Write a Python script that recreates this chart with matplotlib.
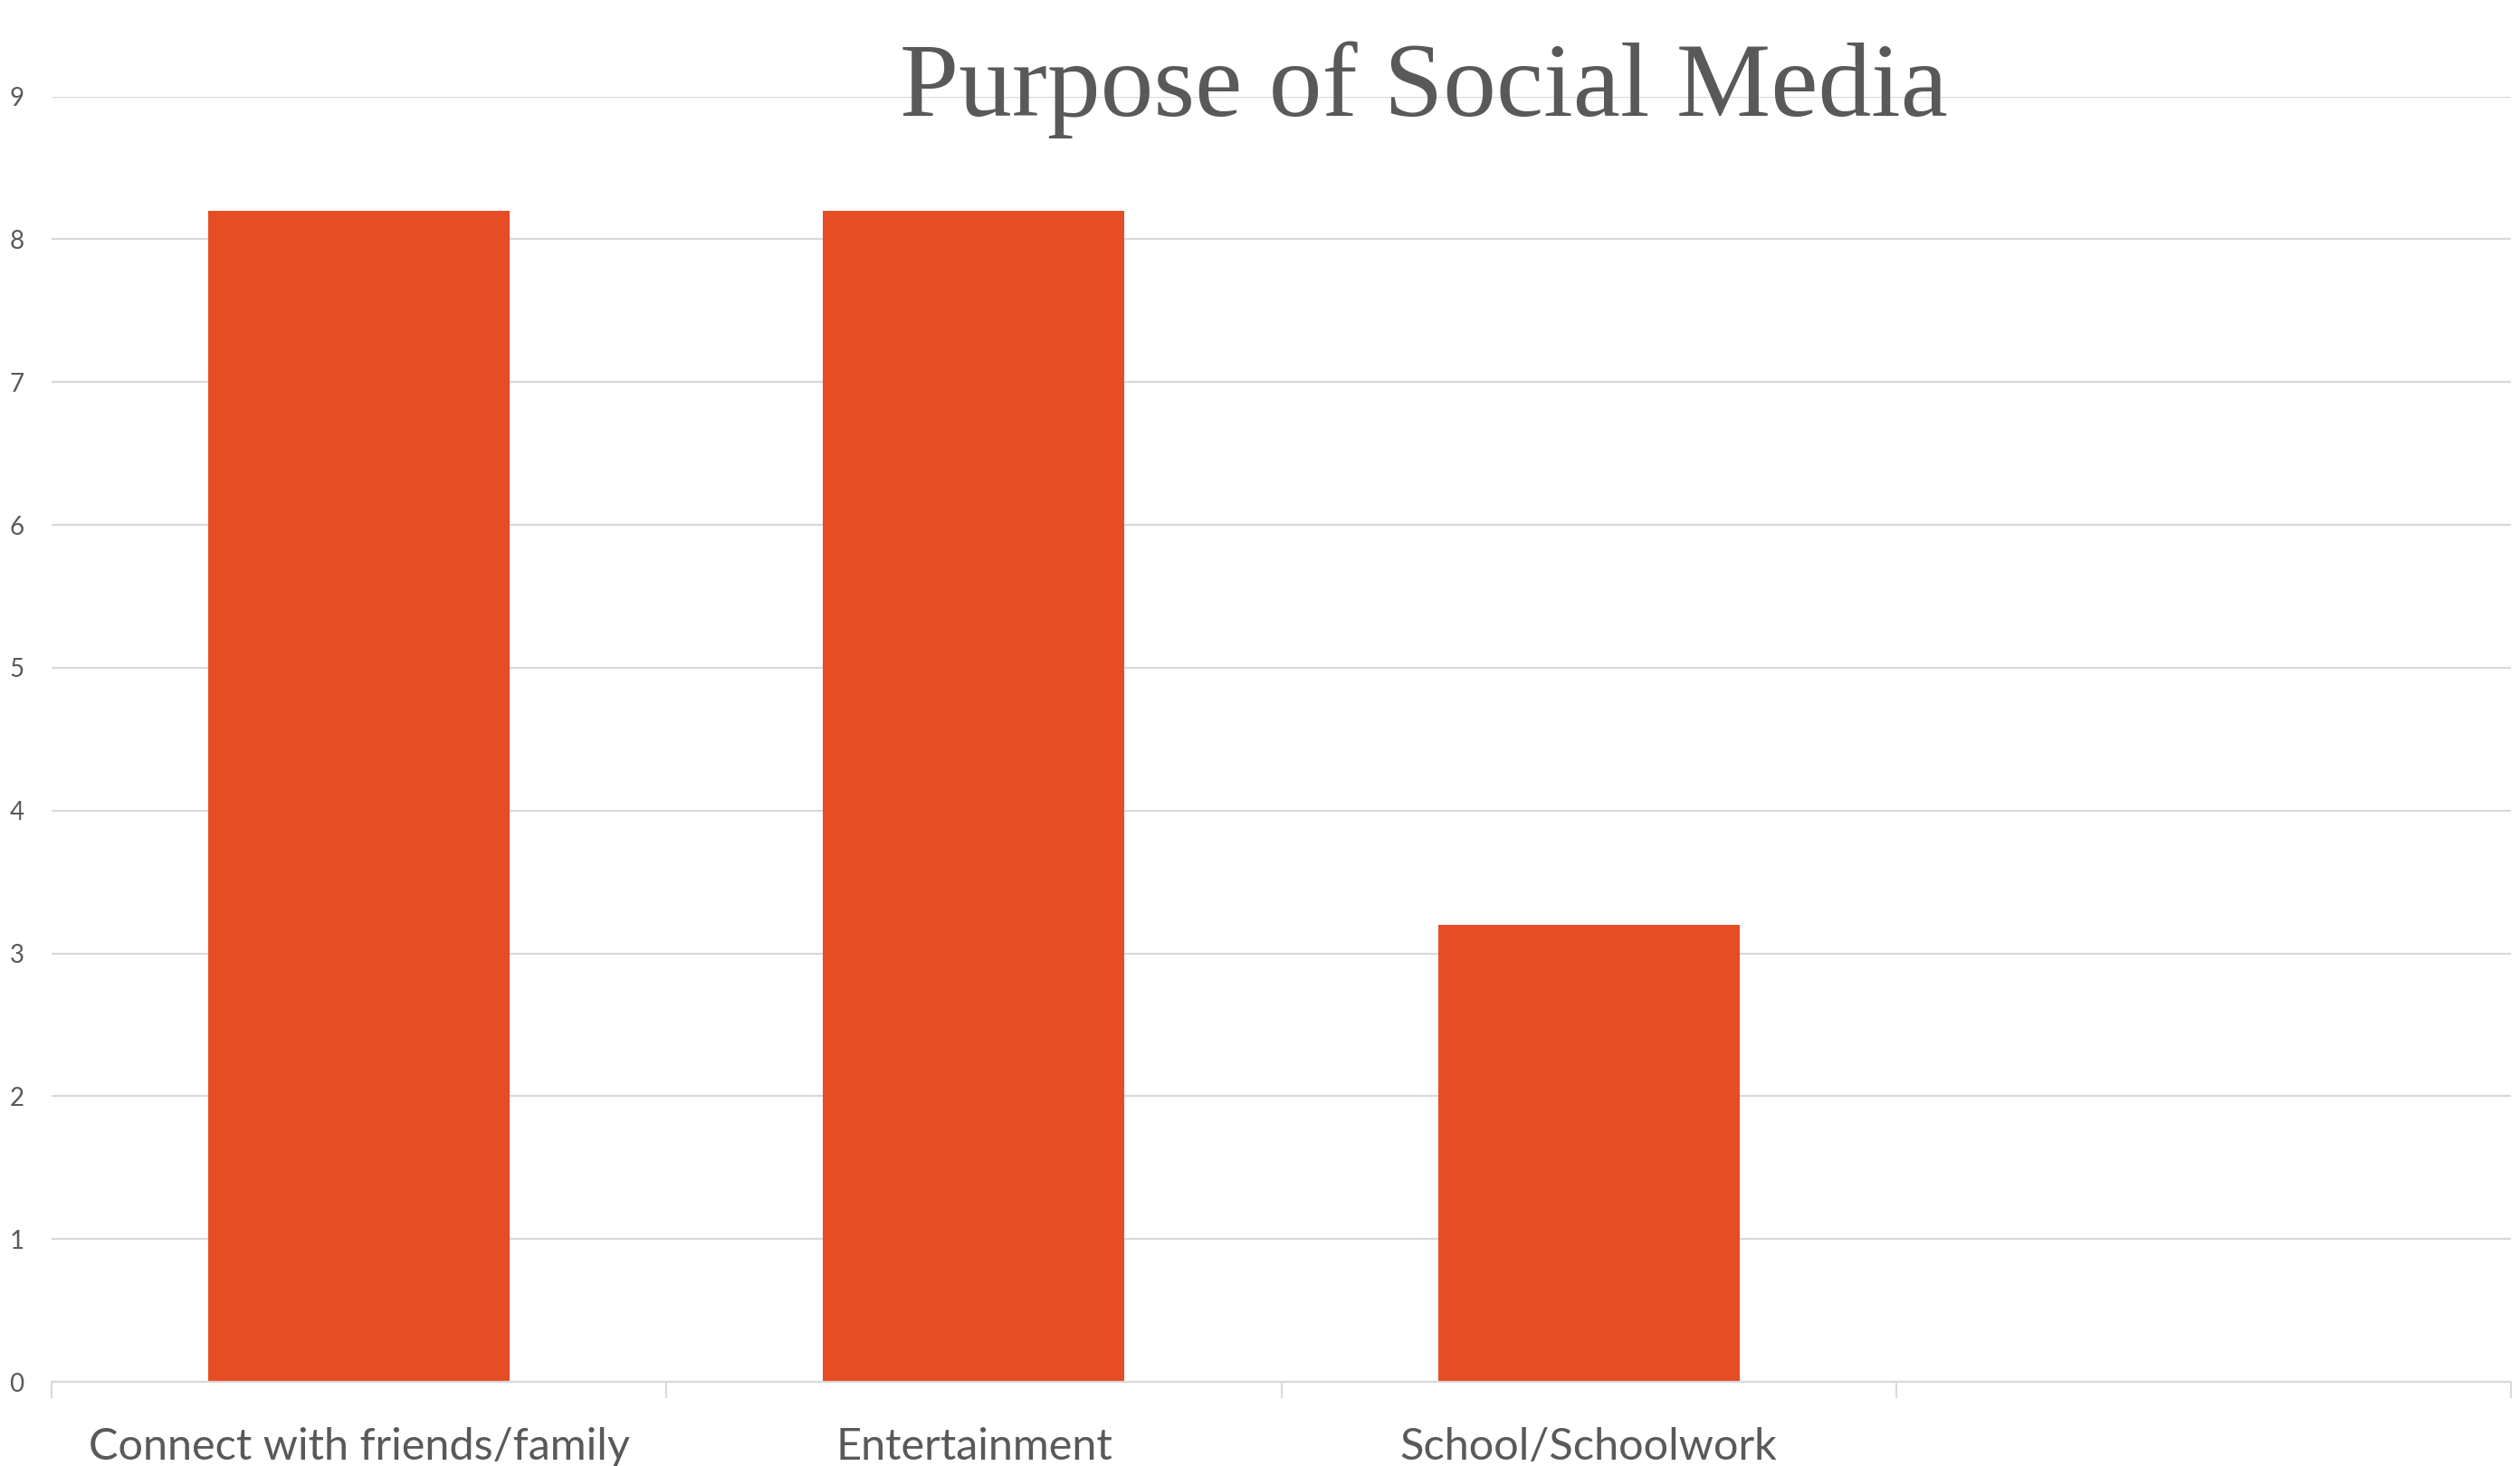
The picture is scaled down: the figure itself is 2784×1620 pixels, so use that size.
import numpy as np
import matplotlib.pyplot as plt
from matplotlib.ticker import FixedLocator

# data
categories = ["Connect with friends/family", "Entertainment", "School/Schoolwork", ""]
values = [8.2, 8.2, 3.2, 0]
y_ticks = list(range(0, 10))

bar_color = "#E64D24"
grid_color = "#D9D9D9"
text_color = "#595959"

fig = plt.figure(figsize=(27.84, 16.2), dpi=100)
ax = fig.add_axes([57 / 2784, 1 - 1527 / 1620, (2774 - 57) / 2784, (1527 - 106.6) / 1620])

x = np.arange(len(categories))
ax.bar(x, values, width=0.49, color=bar_color, zorder=3)

ax.set_xlim(-0.5, len(categories) - 0.5)
ax.set_ylim(0, 9)
ax.set_yticks(y_ticks)
ax.yaxis.grid(True, color=grid_color, linewidth=1.6, zorder=0)

ax.set_xticks(x)
ax.set_xticklabels(categories, fontsize=35, color=text_color, family="Lato")
ax.xaxis.set_minor_locator(FixedLocator(np.arange(-0.5, len(categories), 1.0)))
ax.tick_params(axis="x", which="major", length=0, pad=36)
ax.tick_params(axis="x", which="minor", length=13, width=1.5, color=grid_color)
ax.tick_params(axis="y", length=0, pad=22, labelsize=20, labelcolor=text_color)
for lab in ax.get_yticklabels():
    lab.set_family("Lato")

for side in ["top", "right", "left"]:
    ax.spines[side].set_visible(False)
ax.spines["bottom"].set_color(grid_color)
ax.spines["bottom"].set_linewidth(1.6)
ax.spines["bottom"].set_zorder(4)

fig.text(1573 / 2784, 1 - 128 / 1620, "Purpose of Social Media", ha="center", va="baseline",
         fontsize=84.5, color=text_color, family="Liberation Serif")

fig.savefig("out.png", dpi=100)
